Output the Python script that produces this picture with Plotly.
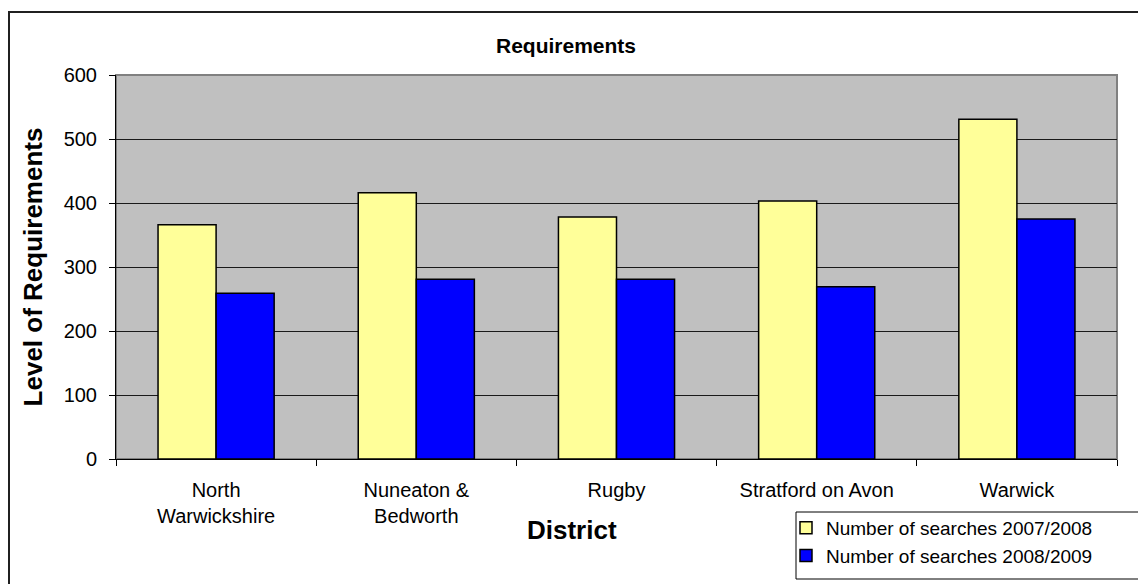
import plotly.graph_objects as go

districts = ["North<br>Warwickshire", "Nuneaton &<br>Bedworth", "Rugby", "Stratford on Avon", "Warwick"]
searches_2007_2008 = [366, 416, 378, 403, 531]
searches_2008_2009 = [259, 281, 281, 269, 375]
series_names = ["Number of searches 2007/2008", "Number of searches 2008/2009"]
chart_title = "Requirements"
y_title = "Level of Requirements"
x_title = "District"

FONT = "Arial, 'Liberation Sans', sans-serif"

fig = go.Figure()
fig.add_trace(go.Bar(
    x=districts, y=searches_2007_2008, name=series_names[0],
    marker=dict(color="#FFFF99", line=dict(color="#000000", width=1.5)),
))
fig.add_trace(go.Bar(
    x=districts, y=searches_2008_2009, name=series_names[1],
    marker=dict(color="#0000FF", line=dict(color="#000000", width=1.5)),
))

# page body has an 8px default margin: work in reference pixels minus 8
OFF = 8
W, H = 1146 - OFF, 584 - OFF
L, R, T, B = 108, 29, 67, 125
pw, ph = W - L - R, H - T - B

def px_x(p):
    return (p - OFF - L) / pw

def px_y(p):
    return (H - B - (p - OFF)) / ph

fig.update_layout(
    width=W, height=H,
    margin=dict(l=L, r=R, t=T, b=B, autoexpand=False),
    paper_bgcolor="white",
    plot_bgcolor="#C0C0C0",
    barmode="group",
    bargap=0.42,
    bargroupgap=0,
    font=dict(family=FONT, size=20, color="black"),
    title=dict(text="<b>" + chart_title + "</b>", x=(566 - OFF) / W, xanchor="center",
               y=1 - (46 - OFF) / H, yanchor="middle", font=dict(size=21, family=FONT)),
    showlegend=True,
    legend=dict(
        x=px_x(786), xanchor="left", y=px_y(509), yanchor="top",
        bgcolor="rgba(0,0,0,0)", borderwidth=0,
        font=dict(size=19, family=FONT), tracegroupgap=0,
        itemwidth=30,
    ),
    xaxis=dict(
        tickson="boundaries", ticks="outside", ticklen=6, tickcolor="black",
        showline=True, linecolor="black", linewidth=1,
        showgrid=False, ticklabelstandoff=13,
        tickfont=dict(size=20, family=FONT),
    ),
    yaxis=dict(
        range=[0, 600], dtick=100, ticks="outside", ticklen=6, tickcolor="black",
        showline=True, linecolor="black", linewidth=1,
        showgrid=True, gridcolor="#1a1a1a", gridwidth=1,
        zeroline=False, ticklabelstandoff=8,
        tickfont=dict(size=20, family=FONT),
        title=dict(text="<b>" + y_title + "</b>", standoff=13,
                   font=dict(size=26, family=FONT)),
    ),
    annotations=[
        dict(text="<b>" + x_title + "</b>", xref="paper", yref="paper",
             x=px_x(572), y=px_y(530), xanchor="center", yanchor="middle",
             showarrow=False, font=dict(size=26, family=FONT)),
    ],
    shapes=[
        # plot area frame (right/top grey border)
        dict(type="rect", xref="paper", yref="paper", x0=0, x1=1, y0=0, y1=1,
             line=dict(color="#808080", width=2), layer="below"),
        # outer chart frame (left and top edges visible)
        dict(type="path", xref="paper", yref="paper",
             path=f"M {px_x(9)},{px_y(700)} L {px_x(9)},{px_y(12)} L {px_x(1160)},{px_y(12)}",
             line=dict(color="#202020", width=2)),
        # legend box
        dict(type="rect", xref="paper", yref="paper",
             x0=px_x(796), x1=px_x(1140), y0=px_y(512), y1=px_y(579),
             line=dict(color="#000000", width=1), fillcolor="white", layer="below"),
    ],
)

fig.write_html("out.html")
